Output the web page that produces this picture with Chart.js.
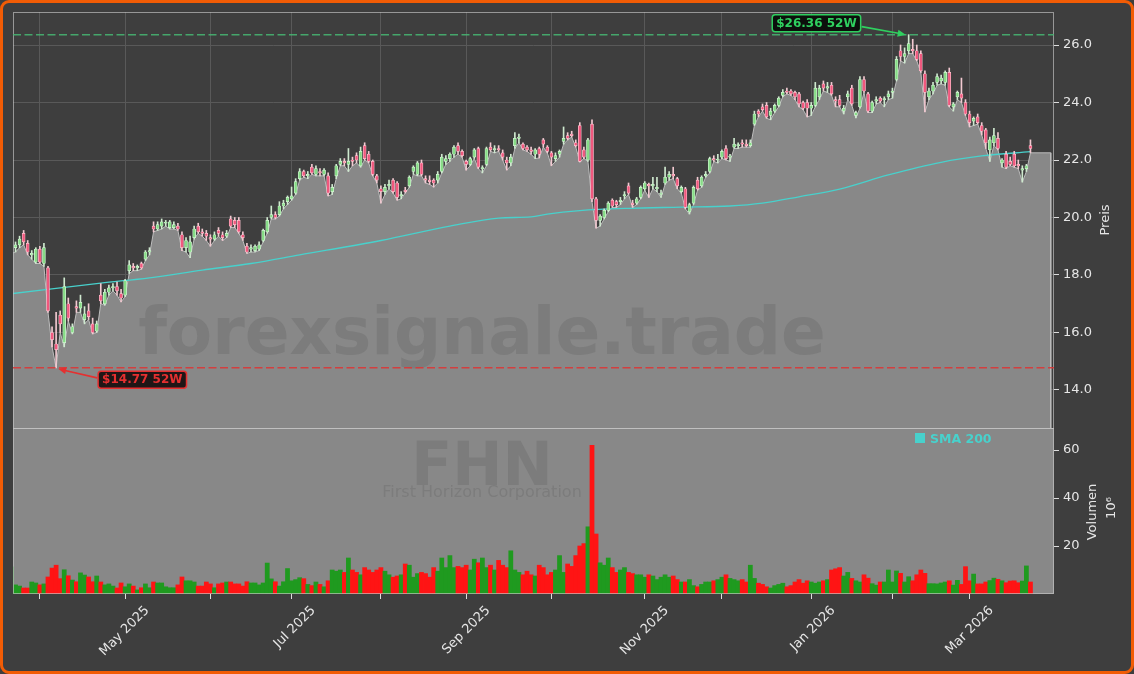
<!DOCTYPE html>
<html>
<head>
<meta charset="utf-8">
<title>FHN - First Horizon Corporation</title>
<script src="https://cdn.jsdelivr.net/npm/chart.js@4.4.1/dist/chart.umd.min.js"></script>
<style>
    html, body { margin: 0; padding: 0; background: #3e3e3e; }
    #frame {
        position: absolute; left: 0; top: 0;
        width: 1134px; height: 674px;
        box-sizing: border-box;
        border: 3px solid #f25c05;
        border-radius: 9px;
        background: #3e3e3e;
    }
    #chart { position: absolute; left: 0; top: 0; }
</style>
</head>
<body>
<div id="frame"></div>
<canvas id="chart" width="1134" height="674"></canvas>
<script>
// Daily candles, 21 Mar 2025 .. 23 Mar 2026 (trading-day index on the x axis)
const opens = [
    18.85,
    18.95, 19.05, 19.45, 19.1, 18.7, 18.45, 18.9, 18.4, 18.25, 16.0,
    15.6, 16.6, 15.65, 17.0, 16.0, 16.9, 16.85, 16.45, 16.75, 16.3,
    16.05, 17.3, 17.0, 17.4, 17.55, 17.6, 17.35, 17.3, 18.15, 18.3,
    18.25, 18.4, 18.55, 18.8, 19.7, 19.6, 19.7, 19.8, 19.65, 19.65,
    19.7, 19.4, 18.95, 18.8, 19.3, 19.7, 19.5, 19.45, 19.3, 19.25,
    19.55, 19.4, 19.35, 19.95, 19.9, 19.9, 19.4, 19.0, 18.9, 18.85,
    18.9, 19.2, 19.5, 20.0, 20.1, 20.1, 20.4, 20.55, 20.65, 20.85,
    21.35, 21.6, 21.45, 21.75, 21.5, 21.6, 21.5, 21.45, 20.9, 21.45,
    21.85, 21.95, 21.85, 22.0, 22.15, 21.8, 22.5, 22.2, 21.95, 21.45,
    21.0, 20.9, 21.1, 21.3, 21.2, 20.75, 20.95, 21.1, 21.6, 21.5,
    21.9, 21.35, 21.3, 21.3, 21.3, 21.6, 21.95, 22.05, 22.2, 22.5,
    22.3, 21.95, 21.85, 22.1, 22.4, 21.7, 21.85, 22.45, 22.35, 22.4,
    22.25, 22.0, 21.9, 22.5, 22.75, 22.55, 22.45, 22.35, 22.2, 22.4,
    22.7, 22.45, 22.25, 22.05, 22.2, 22.65, 22.85, 22.9, 22.6, 23.2,
    22.35, 22.0, 23.25, 20.65, 19.9, 20.0, 20.25, 20.6, 20.55, 20.55,
    20.75, 21.1, 20.5, 20.5, 20.7, 21.0, 21.15, 21.1, 21.0, 20.8,
    21.2, 21.4, 21.5, 21.35, 20.9, 21.0, 20.2, 20.5, 21.3, 21.1,
    21.45, 21.6, 22.05, 22.0, 22.1, 22.4, 22.1, 22.45, 22.5, 22.6,
    22.55, 22.5, 23.25, 23.7, 23.85, 23.9, 23.55, 23.7, 23.9, 24.25,
    24.4, 24.4, 24.35, 24.3, 24.0, 24.0, 23.8, 23.9, 24.2, 24.65,
    24.5, 24.6, 24.1, 24.1, 23.7, 24.2, 24.5, 23.55, 23.85, 24.8,
    24.3, 23.7, 24.05, 24.15, 24.1, 24.2, 24.35, 24.8, 25.8, 25.6,
    25.8, 25.85, 25.8, 25.7, 25.0, 24.2, 24.4, 24.7, 24.75, 24.7,
    25.05, 23.85, 24.2, 24.3, 24.0, 23.6, 23.35, 23.5, 23.2, 23.05,
    22.35, 22.6, 22.75, 21.9, 22.2, 21.95, 22.2, 21.85, 21.65, 21.7,
    22.5
];
const highs = [
    19.05,
    19.15, 19.35, 19.55, 19.2, 18.85, 18.95, 19.0, 19.1, 18.3, 16.2,
    16.7, 16.75, 17.9, 17.2, 16.3, 17.1, 17.3, 16.9, 17.0, 16.5,
    16.4, 17.7, 17.5, 17.65, 17.7, 17.75, 17.5, 17.85, 18.5, 18.4,
    18.35, 18.45, 18.85, 18.95, 19.85, 19.85, 19.95, 19.9, 19.9, 19.85,
    19.8, 19.5, 19.3, 19.35, 19.7, 19.8, 19.6, 19.55, 19.4, 19.5,
    19.65, 19.5, 19.55, 20.05, 20.0, 20.0, 19.5, 19.1, 19.05, 19.05,
    19.15, 19.6, 20.0, 20.4, 20.2, 20.55, 20.6, 20.75, 21.06, 21.35,
    21.7, 21.65, 21.6, 21.85, 21.8, 21.7, 21.7, 21.55, 21.15, 21.85,
    22.05, 22.05, 22.4, 22.1, 22.25, 22.45, 22.6, 22.3, 22.0, 21.5,
    21.1, 21.15, 21.3, 21.35, 21.25, 20.9, 21.05, 21.45, 21.8, 21.95,
    22.0, 21.45, 21.45, 21.35, 21.6, 22.2, 22.15, 22.25, 22.5, 22.6,
    22.35, 22.0, 22.1, 22.4, 22.45, 21.8, 22.45, 22.6, 22.5, 22.5,
    22.35, 22.1, 22.2, 22.95, 22.9, 22.6, 22.5, 22.45, 22.4, 22.45,
    22.75, 22.5, 22.3, 22.25, 22.35, 23.15, 22.95, 23.0, 22.7, 23.3,
    22.45, 22.75, 23.4, 20.7, 20.1, 20.3, 20.55, 20.65, 20.6, 20.7,
    20.9, 21.2, 20.6, 20.7, 21.1, 21.25, 21.2, 21.4, 21.4, 20.95,
    21.75, 21.6, 21.75, 21.4, 21.1, 21.05, 20.5, 21.1, 21.4, 21.45,
    21.6, 22.1, 22.15, 22.2, 22.35, 22.5, 22.2, 22.75, 22.6, 22.7,
    22.7, 22.7, 23.7, 23.75, 23.95, 24.0, 23.8, 23.95, 24.2, 24.45,
    24.5, 24.45, 24.4, 24.35, 24.05, 24.1, 24.0, 24.7, 24.6, 24.75,
    24.7, 24.7, 24.2, 24.25, 23.9, 24.4, 24.6, 23.7, 24.9, 24.9,
    24.35, 24.05, 24.2, 24.2, 24.2, 24.4, 24.5, 25.6, 26.0, 25.9,
    26.36, 26.2, 26.0, 25.8, 25.1, 24.5, 24.7, 25.0, 24.95, 25.1,
    25.2, 24.0, 24.4, 24.85, 24.1, 23.7, 23.5, 23.6, 23.3, 23.1,
    22.8, 23.1, 22.95, 22.05, 22.3, 22.1, 22.3, 22.0, 21.8, 21.85,
    22.7
];
const lows = [
    18.75,
    18.8, 18.95, 19.05, 18.7, 18.55, 18.4, 18.4, 18.3, 16.7, 15.5,
    14.77, 16.0, 15.5, 16.4, 15.95, 16.7, 16.7, 16.3, 16.45, 15.95,
    16.0, 17.0, 16.95, 17.3, 17.45, 17.3, 17.06, 17.25, 18.05, 18.15,
    18.15, 18.2, 18.5, 18.7, 19.5, 19.55, 19.6, 19.7, 19.6, 19.6,
    19.55, 18.85, 18.8, 18.6, 19.25, 19.45, 19.35, 19.2, 19.0, 19.2,
    19.35, 19.2, 19.3, 19.65, 19.65, 19.45, 19.2, 18.75, 18.8, 18.8,
    18.85, 19.15, 19.45, 19.95, 19.95, 20.05, 20.3, 20.45, 20.6, 20.8,
    21.3, 21.4, 21.35, 21.5, 21.45, 21.45, 21.45, 20.75, 20.8, 21.35,
    21.8, 21.8, 21.6, 21.8, 21.9, 21.75, 22.0, 21.9, 21.45, 21.2,
    20.5, 20.8, 21.0, 20.85, 20.6, 20.65, 20.85, 21.05, 21.5, 21.45,
    21.45, 21.2, 21.15, 21.06, 21.2, 21.55, 21.85, 21.95, 22.1, 22.2,
    22.1, 21.65, 21.8, 22.05, 21.7, 21.55, 21.8, 22.3, 22.25, 22.3,
    22.0, 21.65, 21.8, 22.4, 22.6, 22.35, 22.3, 22.2, 22.05, 22.07,
    22.45, 22.25, 21.8, 21.95, 22.1, 22.55, 22.7, 22.8, 22.45, 21.93,
    22.05, 21.95, 20.55, 19.63, 19.7, 19.95, 20.2, 20.35, 20.35, 20.45,
    20.65, 20.8, 20.35, 20.45, 20.65, 20.95, 20.7, 21.0, 20.9, 20.7,
    21.15, 21.3, 21.35, 21.0, 20.85, 20.3, 20.12, 20.45, 20.95, 21.05,
    21.4, 21.55, 21.95, 21.9, 22.05, 22.0, 21.95, 22.4, 22.4, 22.45,
    22.45, 22.45, 23.2, 23.5, 23.7, 23.45, 23.4, 23.65, 23.85, 24.2,
    24.3, 24.25, 24.1, 23.85, 23.75, 23.5, 23.55, 23.85, 24.1, 24.4,
    24.35, 24.25, 23.85, 23.85, 23.6, 24.1, 23.9, 23.46, 23.8, 24.35,
    23.65, 23.65, 23.95, 24.0, 23.85, 24.1, 24.15, 24.75, 25.45, 25.37,
    25.7, 25.7, 25.45, 25.05, 23.67, 24.1, 24.3, 24.6, 24.65, 24.6,
    23.85, 23.7, 24.1, 24.0, 23.55, 23.15, 23.2, 23.25, 22.87, 22.4,
    21.95, 22.5, 22.35, 21.75, 21.7, 21.8, 21.75, 21.7, 21.23, 21.6,
    22.25
];
const closes = [
    18.95,
    19.05, 19.25, 19.15, 18.8, 18.75, 18.9, 18.45, 18.95, 16.75, 15.75,
    15.4, 16.3, 17.6, 16.5, 16.2, 16.85, 17.05, 16.65, 16.55, 16.0,
    16.3, 17.1, 17.4, 17.55, 17.6, 17.45, 17.2, 17.8, 18.35, 18.25,
    18.3, 18.25, 18.8, 18.85, 19.6, 19.75, 19.85, 19.8, 19.85, 19.75,
    19.6, 18.95, 19.2, 19.15, 19.6, 19.5, 19.45, 19.35, 19.25, 19.4,
    19.45, 19.3, 19.45, 19.7, 19.75, 19.5, 19.3, 18.8, 18.95, 19.0,
    19.05, 19.55, 19.9, 20.1, 20.0, 20.4, 20.5, 20.7, 20.75, 21.25,
    21.6, 21.45, 21.5, 21.55, 21.7, 21.55, 21.65, 20.85, 21.05, 21.8,
    21.95, 21.9, 21.95, 21.95, 22.0, 22.3, 22.05, 21.95, 21.5, 21.3,
    20.9, 21.05, 21.15, 20.9, 20.7, 20.8, 20.9, 21.4, 21.75, 21.9,
    21.5, 21.3, 21.25, 21.2, 21.5, 22.1, 22.05, 22.2, 22.45, 22.3,
    22.15, 21.85, 22.05, 22.35, 21.75, 21.7, 22.4, 22.35, 22.4, 22.35,
    22.1, 21.9, 22.1, 22.75, 22.8, 22.4, 22.35, 22.3, 22.35, 22.2,
    22.55, 22.3, 22.1, 22.15, 22.3, 22.75, 22.75, 22.85, 22.5, 21.95,
    22.1, 22.7, 20.65, 19.9, 20.05, 20.25, 20.5, 20.4, 20.45, 20.6,
    20.8, 20.85, 20.45, 20.65, 21.05, 21.2, 21.1, 21.15, 21.05, 20.85,
    21.4, 21.5, 21.45, 21.1, 21.05, 20.35, 20.45, 21.05, 21.0, 21.4,
    21.5, 22.05, 22.0, 22.0, 22.3, 22.05, 22.1, 22.55, 22.5, 22.55,
    22.5, 22.6, 23.6, 23.6, 23.75, 23.5, 23.7, 23.9, 24.15, 24.35,
    24.35, 24.3, 24.2, 23.95, 23.8, 23.8, 23.9, 24.5, 24.5, 24.5,
    24.55, 24.3, 24.05, 23.9, 23.8, 24.3, 23.95, 23.65, 24.8, 24.4,
    23.7, 24.0, 24.1, 24.05, 24.1, 24.3, 24.4, 25.5, 25.6, 25.7,
    26.05, 25.8, 25.5, 25.1, 24.35, 24.4, 24.6, 24.9, 24.85, 25.05,
    23.9, 23.95, 24.35, 24.15, 23.6, 23.3, 23.45, 23.3, 23.0, 22.6,
    22.7, 22.85, 22.4, 22.0, 21.75, 21.85, 21.8, 21.8, 21.7, 21.8,
    22.4
];
// Volume in millions of shares
const volumes = [
    11.3, 3.8, 3.3, 2.5, 2.5, 5.0, 4.6, 3.8, 4.2, 7.1,
    10.8, 12.0, 6.4, 10.1, 7.6, 5.8, 5.1, 8.8, 7.9, 7.1,
    5.1, 7.5, 5.0, 3.8, 4.2, 3.3, 2.5, 4.6, 3.0, 4.2,
    3.3, 1.7, 2.6, 4.2, 2.6, 5.0, 4.6, 4.6, 3.0, 2.6,
    2.6, 3.8, 7.1, 5.5, 5.5, 5.0, 3.3, 3.3, 5.0, 4.2,
    2.6, 4.2, 4.6, 5.0, 5.0, 4.2, 4.2, 3.3, 5.1, 4.6,
    4.6, 3.8, 4.6, 12.9, 6.3, 5.1, 3.3, 5.1, 10.6, 5.5,
    6.0,
    6.8, 6.4, 4.0, 3.5, 5.0, 4.0, 3.0, 5.5, 10.0, 9.5,
    10.0, 9.0, 15.0, 10.0, 9.0, 8.0, 11.0, 10.0, 9.0, 10.0,
    11.0, 9.5, 8.0, 7.0, 7.5, 8.0, 12.5, 12.0, 7.0, 8.5,
    9.0, 8.5, 7.0, 11.0, 9.5, 15.0, 11.0, 16.0, 11.0, 11.5,
    11.0, 12.0, 10.0, 14.5, 13.0, 15.0, 11.0, 12.0, 10.0, 14.0,
    12.0, 11.0, 18.0, 10.0, 9.0, 8.0, 9.5, 8.0, 7.5, 12.0,
    11.0, 8.0, 9.0, 10.0, 16.0, 9.0, 12.5, 11.5, 16.0, 20.0,
    21.0, 28.0, 62.0, 25.0, 13.0, 12.0, 15.0, 11.0, 9.0, 10.0,
    11.0, 9.0, 8.5, 8.0, 8.0, 7.0, 8.0, 7.5, 6.0, 7.0,
    8.0, 7.0, 7.5, 6.0, 5.0, 5.0, 6.0, 3.5, 3.0, 4.0,
    5.0, 5.0, 5.5, 6.0, 7.0, 8.0, 6.5, 6.0, 5.5, 6.0,
    5.0, 12.0, 6.5, 4.5, 4.0, 3.0, 2.5, 3.5, 4.0, 4.5,
    3.0, 3.5, 5.0, 6.0, 4.5, 5.5, 5.0, 4.5, 5.0, 5.5,
    6.0, 10.0, 10.5, 11.0, 7.5, 9.0, 6.5, 5.5, 5.0, 8.0,
    6.6, 4.3, 3.7, 5.0, 5.0, 10.0, 5.0, 9.6, 8.6, 5.0,
    7.2, 5.5, 8.0, 10.0, 8.6, 4.3, 4.3, 4.2, 4.6, 5.0,
    5.5, 3.7, 5.7, 4.0, 11.4, 5.5, 8.3, 4.2, 4.2, 5.0,
    5.6, 6.6, 6.1, 5.5, 4.7, 5.4, 5.5, 4.7, 5.4, 11.7,
    5.0
];

// 200-day simple moving average, read at a few trading-day indices
const smaIndex = [0, 22, 34, 47, 59, 71, 91, 108, 120, 128, 132, 140, 152, 165, 177, 185, 194, 204, 216, 229, 239, 251];
const smaValues = [17.35, 17.72, 17.9, 18.17, 18.4, 18.7, 19.2, 19.7, 19.98, 20.02, 20.12, 20.24, 20.32, 20.36, 20.4, 20.5, 20.72, 20.99, 21.48, 21.92, 22.14, 22.29];

// Axis ticks: first trading day of every month, labels on every second month
const monthTicks = [7, 28, 49, 69, 91, 112, 133, 156, 175, 197, 217, 236];
const monthLabels = ['', 'May 2025', '', 'Jul 2025', '', 'Sep 2025', '', 'Nov 2025', '', 'Jan 2026', '', 'Mar 2026'];
const priceTicks = [14, 16, 18, 20, 22, 24, 26];
const volumeTicks = [20, 40, 60];

const high52 = 26.36;
const low52 = 14.77;

document.addEventListener('DOMContentLoaded', function() {
    Chart.defaults.font.family = '"DejaVu Sans", sans-serif';
    initializeChart();
});

/**
 * Draw an arrow with a filled head from (x1, y1) to (x2, y2)
 */
function drawArrow(ctx, x1, y1, x2, y2, color) {
    const a = Math.atan2(y2 - y1, x2 - x1);
    ctx.strokeStyle = color;
    ctx.fillStyle = color;
    ctx.lineWidth = 1.6;
    ctx.beginPath();
    ctx.moveTo(x1, y1);
    ctx.lineTo(x2 - 6 * Math.cos(a), y2 - 6 * Math.sin(a));
    ctx.stroke();
    ctx.beginPath();
    ctx.moveTo(x2, y2);
    ctx.lineTo(x2 - 8 * Math.cos(a) + 3.5 * Math.sin(a), y2 - 8 * Math.sin(a) - 3.5 * Math.cos(a));
    ctx.lineTo(x2 - 8 * Math.cos(a) - 3.5 * Math.sin(a), y2 - 8 * Math.sin(a) + 3.5 * Math.cos(a));
    ctx.closePath();
    ctx.fill();
}

/**
 * Draw a small rounded label box, anchored at its left or right edge
 */
function drawTag(ctx, text, x, cy, anchor, fg, bg) {
    ctx.font = 'bold 12px "DejaVu Sans"';
    const w = ctx.measureText(text).width + 8;
    const h = 17;
    const left = anchor === 'right' ? x - w : x;
    ctx.beginPath();
    ctx.roundRect(left, cy - h / 2, w, h, 3);
    ctx.fillStyle = bg;
    ctx.fill();
    ctx.lineWidth = 1.5;
    ctx.strokeStyle = fg;
    ctx.stroke();
    ctx.fillStyle = fg;
    ctx.textAlign = 'center';
    ctx.textBaseline = 'middle';
    ctx.fillText(text, left + w / 2, cy + 0.5);
    return { left: left, right: left + w };
}

// Panel backgrounds, frame lines, 52W markers, watermark and titles
const decorPlugin = {
    id: 'decor',
    beforeDatasetsDraw(chart) {
        const { ctx, chartArea } = chart;
        const yv = chart.scales.yv;
        ctx.save();
        ctx.fillStyle = '#888888';
        ctx.fillRect(chartArea.left, yv.top, chartArea.right - chartArea.left, yv.bottom - yv.top);
        ctx.restore();
    },
    afterDatasetsDraw(chart) {
        const { ctx, chartArea } = chart;
        const x = chart.scales.x;
        const y = chart.scales.y;
        const yv = chart.scales.yv;
        const left = chartArea.left;
        const right = chartArea.right;

        ctx.save();

        // Watermarks
        ctx.fillStyle = 'rgba(30, 30, 30, 0.11)';
        ctx.textAlign = 'center';
        ctx.textBaseline = 'alphabetic';
        ctx.font = 'bold 66px "DejaVu Sans"';
        ctx.fillText('forexsignale.trade', 482, 354);
        ctx.font = 'bold 60px "DejaVu Sans"';
        ctx.fillText('FHN', 482, 485);
        ctx.font = '16px "DejaVu Sans"';
        ctx.fillText('First Horizon Corporation', 482, 497);

        // Panel frames
        ctx.strokeStyle = 'rgba(200, 200, 200, 0.65)';
        ctx.lineWidth = 1;
        ctx.strokeRect(left + 0.5, y.top + 0.5, right - left - 1, y.bottom - y.top);
        ctx.strokeRect(left + 0.5, yv.top + 0.5, right - left - 1, yv.bottom - yv.top - 1);

        // 52 week high / low lines
        const yHi = y.getPixelForValue(high52);
        const yLo = y.getPixelForValue(low52);
        ctx.lineWidth = 1.5;
        ctx.setLineDash([8, 3.5]);
        ctx.strokeStyle = 'rgba(70, 185, 115, 0.85)';
        ctx.beginPath(); ctx.moveTo(left, yHi); ctx.lineTo(right, yHi); ctx.stroke();
        ctx.strokeStyle = 'rgba(220, 55, 55, 0.9)';
        ctx.beginPath(); ctx.moveTo(left, yLo); ctx.lineTo(right, yLo); ctx.stroke();
        ctx.setLineDash([]);

        // 52 week tags with arrows
        const hiIdx = highs.indexOf(Math.max.apply(null, highs));
        const loIdx = lows.indexOf(Math.min.apply(null, lows));
        const pxHi = x.getPixelForValue(hiIdx);
        const pxLo = x.getPixelForValue(loIdx);
        const hiTag = drawTag(ctx, '$' + high52.toFixed(2) + ' 52W', pxHi - 48, yHi - 11.5, 'right', '#2fd05f', 'rgba(8, 12, 8, 0.92)');
        drawArrow(ctx, hiTag.right + 1, yHi - 8, pxHi - 3, yHi, '#2fd05f');
        const loTag = drawTag(ctx, '$' + low52.toFixed(2) + ' 52W', pxLo + 42, yLo + 12, 'left', '#e53030', 'rgba(22, 12, 12, 0.92)');
        drawArrow(ctx, loTag.left - 1, yLo + 10, pxLo + 2, yLo + 1, '#e53030');

        // SMA legend in the volume panel
        ctx.fillStyle = '#48d1cc';
        ctx.fillRect(915, 433, 10, 10);
        ctx.font = 'bold 12.5px "DejaVu Sans"';
        ctx.textAlign = 'left';
        ctx.textBaseline = 'alphabetic';
        ctx.fillText('SMA 200', 930, 443);

        // Axis titles (rotated, reading bottom to top)
        ctx.fillStyle = '#e6e6e6';
        ctx.font = '13px "DejaVu Sans"';
        ctx.textAlign = 'center';
        ctx.textBaseline = 'middle';
        const titles = [['Preis', 1106, (y.top + y.bottom) / 2], ['Volumen', 1093, 512], ['10\u2076', 1112, 508]];
        titles.forEach(function(t) {
            ctx.save();
            ctx.translate(t[1], t[2]);
            ctx.rotate(-Math.PI / 2);
            ctx.fillText(t[0], 0, 0);
            ctx.restore();
        });

        ctx.restore();
    }
};

/**
 * Build the price + volume chart
 */
function initializeChart() {
    const idx = closes.map((c, i) => i);
    const isUp = closes.map((c, i) => c >= opens[i]);

    // Area under the daily lows, carried flat to the end of the axis
    const lowArea = idx.map(i => ({ x: i, y: lows[i] }));
    const lastLow = lows[lows.length - 1];
    const areaEnd = lows.length + 4;
    const priceMin = 12.678;
    lowArea.push({ x: areaEnd, y: lastLow }, { x: areaEnd, y: priceMin });

    const ctx = document.getElementById('chart').getContext('2d');
    new Chart(ctx, {
        type: 'bar',
        data: {
            datasets: [
                {
                    type: 'bar',
                    label: 'Body',
                    data: idx.map(i => ({ x: i, y: [opens[i], closes[i]] })),
                    yAxisID: 'y',
                    backgroundColor: isUp.map(u => u ? '#86dc86' : '#f0587e'),
                    borderColor: isUp.map(u => u ? '#d6f6d6' : '#ffc6d2'),
                    borderWidth: 0.7,
                    borderSkipped: false,
                    barThickness: 3,
                    minBarLength: 1,
                    grouped: false,
                    order: 1
                },
                {
                    type: 'bar',
                    label: 'Wick',
                    data: idx.map(i => ({ x: i, y: [lows[i], highs[i]] })),
                    yAxisID: 'y',
                    backgroundColor: isUp.map(u => u ? '#cfe9cf' : '#f2c9d1'),
                    borderWidth: 0,
                    barThickness: 1,
                    grouped: false,
                    order: 2
                },
                {
                    type: 'line',
                    label: 'SMA 200',
                    data: smaIndex.map((v, k) => ({ x: v, y: smaValues[k] })),
                    yAxisID: 'y',
                    borderColor: '#48d1cc',
                    borderWidth: 1.3,
                    pointRadius: 0,
                    cubicInterpolationMode: 'monotone',
                    fill: false,
                    order: 3
                },
                {
                    type: 'bar',
                    label: 'Volumen',
                    data: idx.map(i => ({ x: i, y: volumes[i] })),
                    yAxisID: 'yv',
                    backgroundColor: isUp.map(u => u ? '#1f9a1f' : '#ff1414'),
                    borderWidth: 0,
                    barThickness: 4.1,
                    grouped: false,
                    order: 4
                },
                {
                    type: 'line',
                    label: 'Low',
                    data: lowArea,
                    yAxisID: 'y',
                    borderColor: '#bdbdbd',
                    borderWidth: 1,
                    backgroundColor: '#888888',
                    pointRadius: 0,
                    tension: 0,
                    fill: 'start',
                    order: 5
                }
            ]
        },
        options: {
            responsive: false,
            animation: false,
            layout: { padding: { left: 13, top: 12, right: 0, bottom: 0 } },
            plugins: {
                legend: { display: false },
                tooltip: { enabled: false }
            },
            scales: {
                x: {
                    type: 'linear',
                    min: 0.38,
                    max: 256.8,
                    offset: false,
                    afterFit: s => { s.height = 80; },
                    afterBuildTicks: s => { s.ticks = monthTicks.map(v => ({ value: v })); },
                    grid: { color: '#595959', offset: false, tickLength: 5, tickColor: '#dddddd' },
                    border: { display: false },
                    ticks: {
                        autoSkip: false,
                        minRotation: 45,
                        maxRotation: 45,
                        padding: 4,
                        labelOffset: 22,
                        color: '#e6e6e6',
                        font: { size: 13 },
                        callback: function(value) {
                            const k = monthTicks.indexOf(value);
                            return k >= 0 ? monthLabels[k] : '';
                        }
                    }
                },
                y: {
                    type: 'linear',
                    position: 'right',
                    stack: 'panels',
                    stackWeight: 416,
                    min: priceMin,
                    max: 27.148,
                    afterFit: s => { s.width = 80; },
                    afterBuildTicks: s => { s.ticks = priceTicks.map(v => ({ value: v })); },
                    grid: { color: '#595959', tickLength: 5, tickColor: '#dddddd' },
                    border: { display: false },
                    ticks: {
                        padding: 4,
                        color: '#e6e6e6',
                        font: { size: 13 },
                        callback: v => v.toFixed(1)
                    }
                },
                yv: {
                    type: 'linear',
                    position: 'right',
                    stack: 'panels',
                    stackWeight: 166,
                    min: 0,
                    max: 69.17,
                    afterFit: s => { s.width = 80; },
                    afterBuildTicks: s => { s.ticks = volumeTicks.map(v => ({ value: v })); },
                    grid: { drawOnChartArea: false, tickLength: 5, tickColor: '#dddddd' },
                    border: { display: false },
                    ticks: {
                        padding: 4,
                        color: '#e6e6e6',
                        font: { size: 13 },
                        callback: v => String(v)
                    }
                }
            }
        },
        plugins: [decorPlugin]
    });
}
</script>
</body>
</html>
